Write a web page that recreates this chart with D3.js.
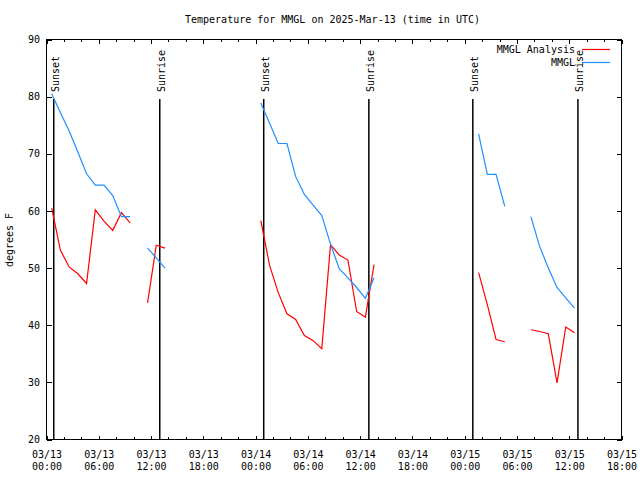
<!DOCTYPE html>
<html><head><meta charset="utf-8">
<script src="https://cdn.jsdelivr.net/npm/d3@7"></script>
<style>
body{margin:0;background:#fff;}
svg text{font-family:"DejaVu Sans Mono","Liberation Mono",monospace;font-size:10px;fill:#000;}
</style></head>
<body><svg id="c" width="640" height="480"></svg>
<script>
const title = "Temperature for MMGL on 2025-Mar-13 (time in UTC)";
const yLabel = "degrees F";
const seriesNames = ["MMGL Analysis", "MMGL"];
const seriesColors = ["#ff0000", "#1e90ff"];

const obsTimes = [
 "2025-03-13T00:36Z","2025-03-13T01:36Z","2025-03-13T02:36Z","2025-03-13T03:36Z","2025-03-13T04:36Z",
 "2025-03-13T05:36Z","2025-03-13T06:36Z","2025-03-13T07:36Z","2025-03-13T08:36Z","2025-03-13T09:36Z",
 "2025-03-13T10:36Z",
 "2025-03-13T11:36Z","2025-03-13T12:36Z","2025-03-13T13:36Z",
 "2025-03-13T14:36Z",
 "2025-03-14T00:36Z","2025-03-14T01:36Z","2025-03-14T02:36Z","2025-03-14T03:36Z","2025-03-14T04:36Z",
 "2025-03-14T05:36Z","2025-03-14T06:36Z","2025-03-14T07:36Z","2025-03-14T08:36Z","2025-03-14T09:36Z",
 "2025-03-14T10:36Z","2025-03-14T11:36Z","2025-03-14T12:36Z","2025-03-14T13:36Z",
 "2025-03-14T14:36Z",
 "2025-03-15T01:36Z","2025-03-15T02:36Z","2025-03-15T03:36Z","2025-03-15T04:36Z",
 "2025-03-15T05:36Z",
 "2025-03-15T07:36Z","2025-03-15T08:36Z","2025-03-15T09:36Z","2025-03-15T10:36Z","2025-03-15T11:36Z","2025-03-15T12:36Z"
];
const analysisTemps = [
 60.5,53.1,50.2,49.0,47.3,60.2,58.2,56.6,59.7,57.9,
 null,
 43.9,54.0,53.5,
 null,
 58.3,50.5,45.7,42.0,41.0,38.2,37.3,35.9,54.1,52.3,51.4,42.4,41.4,50.6,
 null,
 49.2,43.6,37.5,37.1,
 null,
 39.2,38.9,38.5,29.9,39.7,38.7
];
const observedTemps = [
 80.5,77.2,74.0,70.3,66.5,64.5,64.5,62.7,59.0,59.0,
 null,
 53.5,51.8,50.0,
 null,
 78.9,75.4,71.8,71.8,66.0,62.9,61.0,59.2,54.2,49.9,48.3,46.6,44.7,48.3,
 null,
 73.5,66.4,66.4,60.8,
 null,
 59.0,53.8,50.0,46.6,44.8,43.0
];
const sunLabels = ["Sunset","Sunrise","Sunset","Sunrise","Sunset","Sunrise"];
const sunTimes = ["2025-03-13T00:50Z","2025-03-13T13:00Z","2025-03-14T00:56Z","2025-03-14T13:00Z","2025-03-15T00:56Z","2025-03-15T13:00Z"];
const xDomain = ["2025-03-13T00:00Z","2025-03-15T18:00Z"];
const yDomain = [20, 90];
const yTicks = [20,30,40,50,60,70,80,90];
const sunLineTop = 79.6;

const svg = d3.select("#c");
const L=46.5, R=621.5, T=39.5, B=439.5;
const x = d3.scaleUtc().domain(xDomain.map(d3.isoParse)).range([L,R]);
const y = d3.scaleLinear().domain(yDomain).range([B,T]);

const majorT = d3.utcHour.every(6).range(x.domain()[0], d3.utcHour.offset(x.domain()[1],1));
const minorT = d3.utcHour.every(2).range(x.domain()[0], d3.utcHour.offset(x.domain()[1],1)).filter(d=>d.getUTCHours()%6!==0);

function styleAxis(g){ g.select(".domain").remove(); g.selectAll("line").attr("stroke","#000").attr("shape-rendering","crispEdges"); g.attr("font-size",null).attr("font-family",null); }

// bottom axis
const gb = svg.append("g").attr("transform",`translate(0,${B})`)
  .call(d3.axisBottom(x).tickValues(majorT).tickSize(-4).tickFormat(""));
styleAxis(gb);
gb.selectAll(".tick text").remove();
gb.selectAll(".tick").each(function(d){
  const t = d3.select(this).append("text").attr("text-anchor","middle");
  t.append("tspan").attr("x",0).attr("y",18.5).text(d3.utcFormat("%m/%d")(d));
  t.append("tspan").attr("x",0).attr("y",30.5).text(d3.utcFormat("%H:%M")(d));
});
svg.append("g").attr("transform",`translate(0,${B})`)
  .call(d3.axisBottom(x).tickValues(minorT).tickSize(-2.5).tickFormat("")).call(styleAxis);
// top axis
svg.append("g").attr("transform",`translate(0,${T})`)
  .call(d3.axisTop(x).tickValues(majorT).tickSize(-4).tickFormat("")).call(styleAxis);
svg.append("g").attr("transform",`translate(0,${T})`)
  .call(d3.axisTop(x).tickValues(minorT).tickSize(-2.5).tickFormat("")).call(styleAxis);
// left axis
const gl = svg.append("g").attr("transform",`translate(${L},0)`)
  .call(d3.axisLeft(y).tickValues(yTicks).tickSize(-5).tickPadding(6.5).tickFormat(d3.format("d")));
styleAxis(gl);
// right axis
svg.append("g").attr("transform",`translate(${R},0)`)
  .call(d3.axisRight(y).tickValues(yTicks).tickSize(-5).tickFormat("")).call(styleAxis);

// border
svg.append("rect").attr("x",L).attr("y",T).attr("width",R-L).attr("height",B-T)
  .attr("fill","none").attr("stroke","#000").attr("shape-rendering","crispEdges");

// sun lines
sunTimes.forEach((s,i)=>{
  const xs = x(d3.isoParse(s));
  svg.append("line").attr("x1",xs).attr("x2",xs).attr("y1",y(sunLineTop)).attr("y2",B)
    .attr("stroke","#000").attr("stroke-width",1.5);
  svg.append("text").attr("transform",`translate(${xs+5},92) rotate(-90)`)
    .attr("text-anchor","start").text(sunLabels[i]);
});

// data lines
const parsedTimes = obsTimes.map(d3.isoParse);
const line = d3.line().defined(d=>d[1]!=null).x(d=>x(d[0])).y(d=>y(d[1]));
[analysisTemps, observedTemps].forEach((vals,i)=>{
  svg.append("path").datum(parsedTimes.map((t,j)=>[t,vals[j]]))
    .attr("fill","none").attr("stroke",seriesColors[i]).attr("stroke-width",1.2)
    .attr("d",line);
});

// legend
seriesNames.forEach((n,i)=>{
  const yy = 49.5 + i*13;
  svg.append("text").attr("x",575).attr("y",yy+3.6).attr("text-anchor","end").text(n);
  svg.append("line").attr("x1",582).attr("x2",610).attr("y1",yy).attr("y2",yy)
    .attr("stroke",seriesColors[i]).attr("stroke-width",1.2);
});

// title and y label
svg.append("text").attr("x",332.5).attr("y",23).attr("text-anchor","middle").text(title);
svg.append("text").attr("transform","translate(13,240) rotate(-90)").attr("text-anchor","middle").text(yLabel);
</script></body></html>
